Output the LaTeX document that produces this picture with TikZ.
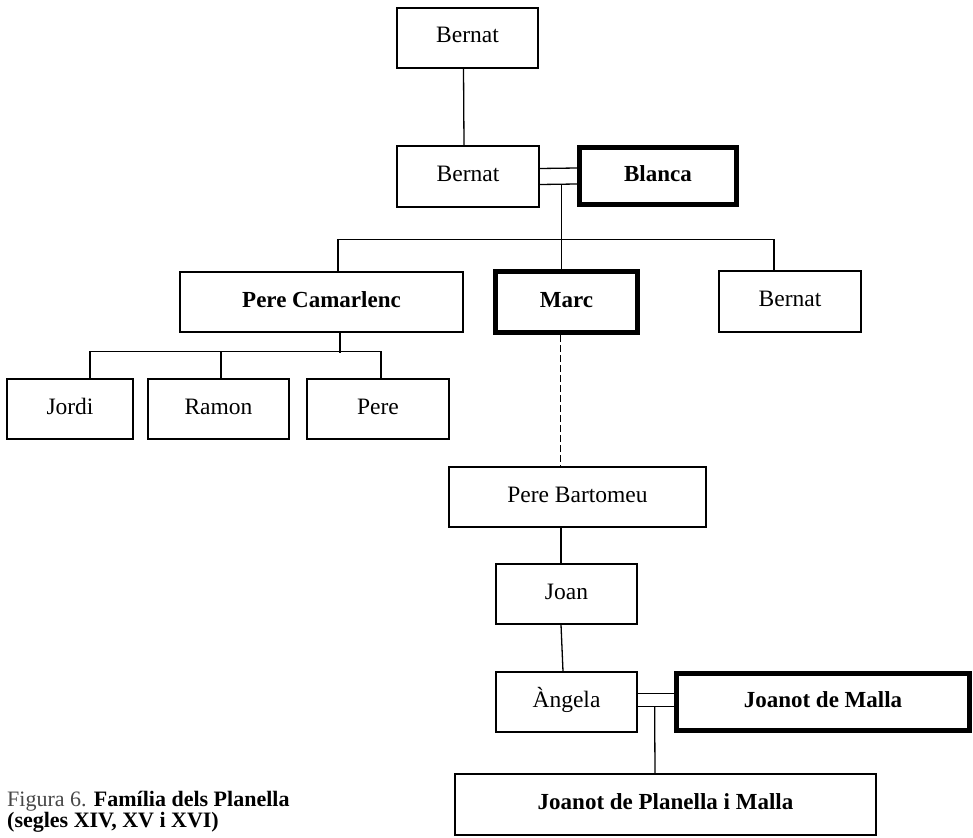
\documentclass[tikz,border=0pt]{standalone}
\usepackage{fontspec}
\setmainfont{Liberation Serif}
\usetikzlibrary{calc}
\begin{document}
\begin{tikzpicture}[x=1pt,y=-1pt,
  person/.style={draw=black,line width=1.3pt,rectangle,inner sep=0pt,
     text height=16pt,text depth=6pt,
     font=\fontsize{23.5}{27}\selectfont},
  key/.style={person,line width=5pt,font=\fontsize{23}{27}\selectfont\bfseries},
  boldp/.style={person,font=\fontsize{23}{27}\selectfont\bfseries},
  link/.style={line width=1.3pt},
  dlink/.style={line width=1.4pt,dash pattern=on 6.5pt off 3.5pt}]
\useasboundingbox (0,0) rectangle (973,837);
% nodes
\node[person,minimum width=141pt,minimum height=60pt] (b1) at (467.5,38) {Bernat};
\node[person,minimum width=142pt,minimum height=61pt] (b2) at (468,176.5) {Bernat};
\node[key,minimum width=157pt,minimum height=57pt] (blanca) at (658,176) {Blanca};
\node[boldp,minimum width=283pt,minimum height=60pt] (pc) at (321.5,302) {Pere Camarlenc};
\node[key,minimum width=142pt,minimum height=61pt] (marc) at (566.5,302) {Marc};
\node[person,minimum width=142pt,minimum height=61pt] (b3) at (790,301.5) {Bernat};
\node[person,minimum width=126pt,minimum height=60pt] (jordi) at (70,409) {Jordi};
\node[person,minimum width=141pt,minimum height=60pt] (ramon) at (218.5,409) {Ramon};
\node[person,minimum width=142pt,minimum height=60pt] (pere) at (378,409) {Pere};
\node[person,minimum width=257pt,minimum height=60pt] (pb) at (577.5,497) {Pere Bartomeu};
\node[person,minimum width=141pt,minimum height=60pt] (joan) at (566.5,594) {Joan};
\node[person,minimum width=141pt,minimum height=60pt] (angela) at (566.5,702) {Àngela};
\node[key,minimum width=293pt,minimum height=57pt] (jm) at (823,702) {Joanot de Malla};
\node[boldp,minimum width=421pt,minimum height=61pt] (jpm) at (665.5,804.5) {Joanot de Planella i Malla};
% caption
\node[anchor=base west,inner sep=0pt,align=left,
  font=\fontsize{22}{22}\selectfont] (cap) at (7,827)
  {{\color{black!72}Figura 6.} \textbf{Família dels Planella}\\[-1pt]\textbf{(segles XIV, XV i XVI)}};
% connectors
\draw[link] ($(b1.south)+(-4,0)$) -- ($(b2.north)+(-4,0)$);
\draw[link] ($(b2.east)+(0,-8)$) -- ($(blanca.west)+(0,-8)$);
\draw[link] ($(b2.east)+(0,8)$) -- ($(blanca.west)+(0,8)$);
\coordinate (mtop) at ($(b2.east)+(22,8)$);
\coordinate (mj) at ($(mtop)+(0,55)$);
\draw[link] (mtop) -- (mj);
\draw[link] ($(pc.north)+(16.5,0)$) -- ++(0,-32) -| ($(b3.north)+(-16,0)$);
\draw[link] (mj) -- (mj |- marc.north);
\draw[link] ($(pc.south)+(18.5,0)$) -- ++(0,20);
\draw[link] ($(jordi.north)+(20,0)$) -- ++(0,-27) -| ($(pere.north)+(3,0)$);
\draw[link] ($(ramon.north)+(2.5,0)$) -- ++(0,-27);
\coordinate (md) at ($(marc.south)+(-6,0)$);
\draw[dlink] (md) -- (md |- pb.north);
\coordinate (pj) at ($(joan.north)+(-5.5,0)$);
\draw[link] (pj |- pb.south) -- (pj);
\draw[link] ($(joan.south)+(-5.5,0)$) -- ($(angela.north)+(-3.5,0)$);
\draw[link] ($(angela.east)+(0,-8.7)$) -- ($(jm.west)+(0,-8.7)$);
\draw[link] ($(angela.east)+(0,4.7)$) -- ($(jm.west)+(0,4.7)$);
\draw[link] ($(angela.east)+(17,4.7)$) -- ($(jpm.north)+(-10.5,0)$);
\end{tikzpicture}
\end{document}
